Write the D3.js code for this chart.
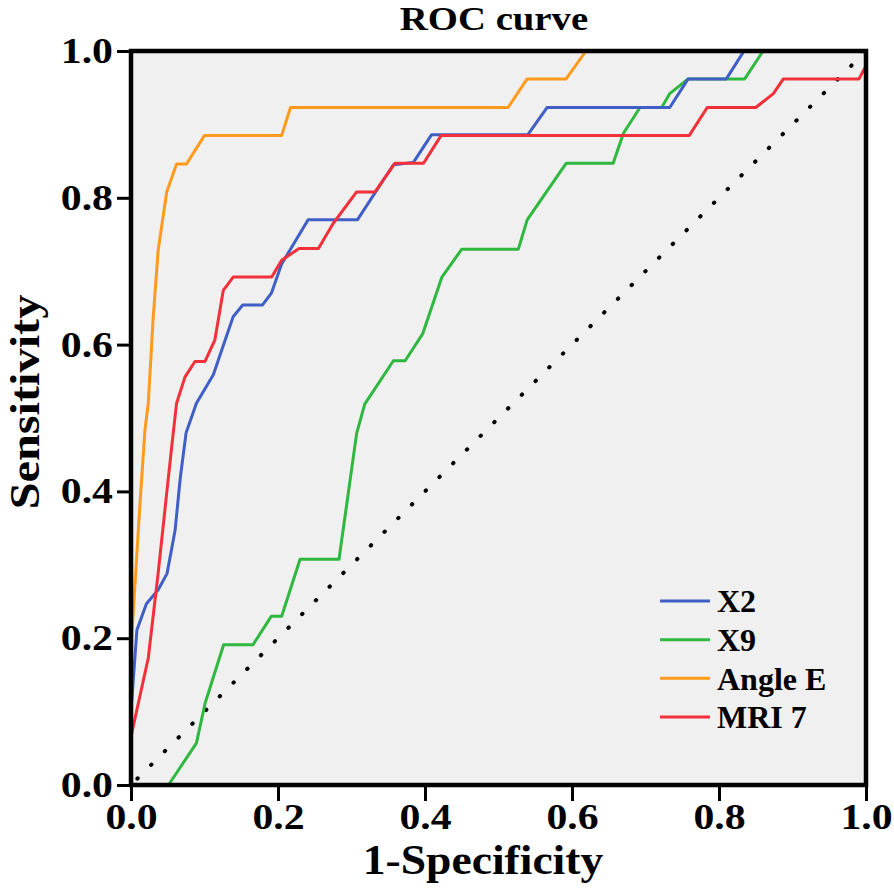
<!DOCTYPE html>
<html><head><meta charset="utf-8">
<script src="https://cdn.jsdelivr.net/npm/d3@7"></script>
<style>html,body{margin:0;padding:0;background:#fff;} svg{display:block;}</style>
</head><body>
<script>
const seriesNames = ["X2", "X9", "Angle E", "MRI 7"];
const seriesColors = ["#3f5fc6", "#2fb83f", "#ff9a1c", "#f2303a"];
const x2 = [[0,0],[0,0.1],[0.008,0.211],[0.021,0.247],[0.037,0.266],[0.049,0.288],[0.06,0.347],[0.067,0.418],[0.075,0.48],[0.089,0.52],[0.112,0.559],[0.128,0.606],[0.139,0.638],[0.152,0.654],[0.179,0.654],[0.191,0.67],[0.205,0.71],[0.241,0.77],[0.308,0.77],[0.357,0.845],[0.384,0.848],[0.409,0.886],[0.54,0.886],[0.566,0.923],[0.733,0.923],[0.758,0.962],[0.81,0.962],[0.834,1],[1,1]];
const x9 = [[0,0],[0.051,0],[0.089,0.057],[0.101,0.112],[0.126,0.191],[0.166,0.191],[0.191,0.23],[0.205,0.23],[0.23,0.3075],[0.283,0.3075],[0.307,0.479],[0.318,0.519],[0.357,0.578],[0.373,0.578],[0.397,0.615],[0.423,0.692],[0.45,0.73],[0.527,0.73],[0.539,0.77],[0.592,0.847],[0.656,0.847],[0.67,0.888],[0.6925,0.923],[0.722,0.923],[0.733,0.942],[0.758,0.962],[0.835,0.962],[0.86,1],[1,1]];
const angleE = [[0,0],[0,0.19],[0.003,0.234],[0.012,0.38],[0.019,0.484],[0.0235,0.52],[0.03,0.634],[0.037,0.729],[0.0486,0.808],[0.062,0.846],[0.0755,0.846],[0.1,0.885],[0.205,0.885],[0.217,0.923],[0.513,0.923],[0.539,0.962],[0.592,0.962],[0.619,1],[1,1]];
const mri7 = [[0,0],[0,0.066],[0.0235,0.173],[0.0327,0.252],[0.037,0.289],[0.0486,0.398],[0.0554,0.461],[0.062,0.52],[0.0735,0.556],[0.087,0.577],[0.1007,0.577],[0.114,0.606],[0.1256,0.674],[0.139,0.692],[0.1914,0.692],[0.205,0.715],[0.2286,0.731],[0.255,0.731],[0.275,0.765],[0.307,0.808],[0.332,0.808],[0.359,0.847],[0.398,0.847],[0.422,0.885],[0.7596,0.885],[0.784,0.923],[0.85,0.923],[0.874,0.942],[0.8875,0.962],[0.9905,0.962],[1,0.98],[1,1]];
const diagonal = [[0,0],[1,1]];
const tickValues = [0, 0.2, 0.4, 0.6, 0.8, 1.0];
const titleText = "ROC curve";
const xTitle = "1-Specificity";
const yTitle = "Sensitivity";

const W = 894, H = 896;
const svg = d3.select("body").append("svg").attr("width", W).attr("height", H);
const x = d3.scaleLinear().domain([0,1]).range([131, 866]);
const y = d3.scaleLinear().domain([0,1]).range([785, 51]);
const font = "'Liberation Serif','Times New Roman',serif";

svg.append("rect").attr("x", x(0)).attr("y", y(1)).attr("width", x(1)-x(0)).attr("height", y(0)-y(1))
  .attr("fill", "#f0f0f0");

const line = d3.line().x(d => x(d[0])).y(d => y(d[1]));

svg.append("path").attr("d", line(diagonal)).attr("fill","none").attr("stroke","#000")
  .attr("stroke-width", 4).attr("stroke-linecap","round").attr("stroke-dasharray","0.5,18.9")
  .attr("stroke-dashoffset", -9);

const allSeries = [x2, x9, angleE, mri7];
const order = [1, 0, 3, 2];
order.forEach(i => {
  svg.append("path").attr("d", line(allSeries[i])).attr("fill","none")
    .attr("stroke", seriesColors[i]).attr("stroke-width", 3).attr("stroke-linejoin","round");
});

// frame
svg.append("rect").attr("x", x(0)).attr("y", y(1)).attr("width", x(1)-x(0)).attr("height", y(0)-y(1))
  .attr("fill", "none").attr("stroke", "#000").attr("stroke-width", 4.5);

const fmt = d3.format(".1f");
const sx = 1.16;
const yAxis = svg.append("g").attr("transform", `translate(${x(0)},0)`)
  .call(d3.axisLeft(y).tickValues(tickValues).tickFormat(fmt).tickSize(14).tickPadding(3));
const xAxis = svg.append("g").attr("transform", `translate(0,${y(0)})`)
  .call(d3.axisBottom(x).tickValues(tickValues).tickFormat(fmt).tickSize(16).tickPadding(2));
[yAxis, xAxis].forEach(g => {
  g.select(".domain").remove();
  g.selectAll("line").attr("stroke","#000").attr("stroke-width", 3);
  g.selectAll("text").attr("fill","#000").attr("font-family", font).attr("font-weight","bold")
    .attr("font-size", 36);
});
yAxis.selectAll("text").attr("x", null).attr("transform", `translate(-18,0) scale(${sx},1)`);
xAxis.selectAll("text").attr("transform", `scale(${sx},1)`);

svg.append("text").attr("transform", "translate(494,30) scale(1.14,1)").attr("text-anchor","middle")
  .attr("font-family", font).attr("font-weight","bold").attr("font-size", 34).text(titleText);
svg.append("text").attr("transform", "translate(483,874) scale(1.06,1)").attr("text-anchor","middle")
  .attr("font-family", font).attr("font-weight","bold").attr("font-size", 43).text(xTitle);
svg.append("text").attr("transform", "translate(39,402) rotate(-90) scale(1.15,1)").attr("text-anchor","middle")
  .attr("font-family", font).attr("font-weight","bold").attr("font-size", 42).text(yTitle);

const legend = svg.append("g");
const legendY = d3.scalePoint().domain(seriesNames).range([601, 717]);
seriesNames.forEach((n, i) => {
  legend.append("line").attr("x1", 660).attr("x2", 710).attr("y1", legendY(n)).attr("y2", legendY(n))
    .attr("stroke", seriesColors[i]).attr("stroke-width", 3);
  legend.append("text").attr("x", 717).attr("y", legendY(n)).attr("dy", "0.35em")
    .attr("font-family", font).attr("font-weight","bold").attr("font-size", 32).text(n);
});
</script>
</body></html>
